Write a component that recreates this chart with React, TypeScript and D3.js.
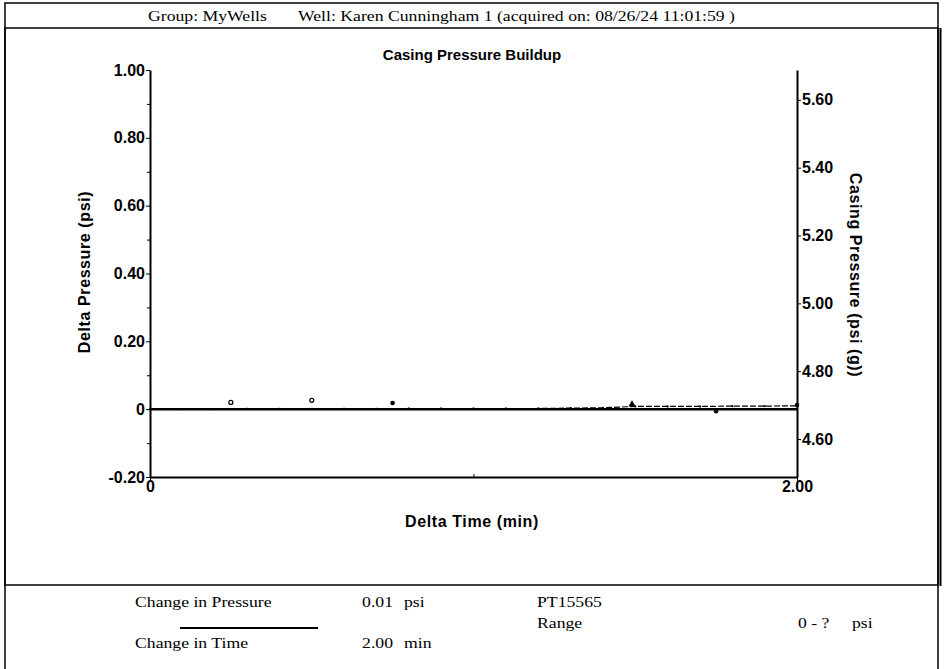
import React, { useRef, useEffect } from "react";
import * as d3 from "d3";

/* DATA */
const traceTime = [0, 0.1, 0.2, 0.3, 0.4, 0.5, 0.6, 0.7, 0.8, 0.9, 1.0, 1.1, 1.2, 1.3, 1.4, 1.5, 1.6, 1.7, 1.8, 1.9, 2.0];
const traceDelta = [0, 0, 0, 0.001, 0.001, 0.001, 0.001, 0.001, 0.002, 0.002, 0.002, 0.002, 0.002, 0.003, 0.004, 0.008, 0.008, 0.008, 0.009, 0.009, 0.01];

const openTime = [0.25, 0.5];
const openDelta = [0.02, 0.026];
const filledTime = [0.75, 1.75, 2.0];
const filledDelta = [0.018, -0.006, 0.012];
const triTime = [1.49];
const triDelta = [0.014];

const leftTicks = [-0.2, 0, 0.2, 0.4, 0.6, 0.8, 1.0];
const leftMinor = [-0.1, 0.1, 0.3, 0.5, 0.7, 0.9];
const rightTicks = [4.6, 4.8, 5.0, 5.2, 5.4, 5.6];
const xTicks = [0, 2];
const xMinor = [1];

const basePressure = 4.688;

const header1 = "Group: MyWells";
const header2 = "Well: Karen Cunningham 1 (acquired on: 08/26/24 11:01:59 )";

const W = 945;
const H = 669;
const left = 150;
const right = 797;
const top = 70;
const bottom = 477;

const sans = "'Liberation Sans', Arial, sans-serif";
const serif = "'Liberation Serif', 'Times New Roman', serif";

// printed report text is wider than the screen font
const stretch = 1.18;

const fmt = (d: any) => (d === 0 ? "0" : (+d).toFixed(2));

function BuildupChart() {
  const svgRef = useRef(null);

  useEffect(() => {
    const svg = d3.select(svgRef.current);
    svg.selectAll("*").remove();

    const x = d3.scaleLinear().domain([0, 2]).range([left, right]);
    const y = d3.scaleLinear().domain([-0.2, 1.0]).range([bottom, top]);
    const y2 = d3
      .scaleLinear()
      .domain([basePressure - 0.2, basePressure + 1.0])
      .range([bottom, top]);

    // frames
    svg.append("rect").attr("x", 5).attr("y", 3).attr("width", 933).attr("height", 680)
      .attr("fill", "none").attr("stroke", "#000").attr("stroke-width", 1.5);
    svg.append("rect").attr("x", 5).attr("y", 28).attr("width", 933).attr("height", 557)
      .attr("fill", "none").attr("stroke", "#000").attr("stroke-width", 1.5);
    svg.append("line").attr("x1", 940.5).attr("x2", 940.5).attr("y1", 28).attr("y2", 586)
      .attr("stroke", "#000").attr("stroke-width", 2);

    const serifText = (tx: number, ty: number, s: string, anchor = "start") =>
      svg.append("text").attr("transform", `translate(${tx},${ty}) scale(${stretch},1)`)
        .attr("text-anchor", anchor).attr("font-family", serif).attr("font-size", 15).text(s);

    // header
    serifText(148, 21, header1);
    serifText(298, 21, header2);

    // title
    svg.append("text").attr("x", 472).attr("y", 60).attr("text-anchor", "middle")
      .attr("font-family", sans).attr("font-weight", "bold").attr("font-size", 15)
      .text("Casing Pressure Buildup");

    // axes
    const axisFont = (g: any) => {
      g.selectAll("text").attr("font-family", sans).attr("font-weight", "bold")
        .attr("font-size", 16).attr("fill", "#000");
      g.select(".domain").attr("stroke-width", 2);
    };

    const yAxis = svg.append("g").attr("transform", `translate(${left},0)`)
      .call(d3.axisLeft(y).tickValues(leftTicks).tickSize(4).tickPadding(1)
        .tickSizeOuter(0).tickFormat(fmt));
    axisFont(yAxis);
    svg.append("g").attr("transform", `translate(${left},0)`)
      .call(d3.axisLeft(y).tickValues(leftMinor).tickSize(3).tickSizeOuter(0).tickFormat(() => ""))
      .call((g: any) => g.select(".domain").remove());

    const y2Axis = svg.append("g").attr("transform", `translate(${right},0)`)
      .call(d3.axisRight(y2).tickValues(rightTicks).tickSize(4).tickPadding(1)
        .tickSizeOuter(0).tickFormat(fmt));
    axisFont(y2Axis);

    const xAxis = svg.append("g").attr("transform", `translate(0,${bottom})`)
      .call(d3.axisBottom(x).tickValues(xTicks).tickSize(4).tickPadding(0)
        .tickSizeOuter(0).tickFormat(fmt));
    axisFont(xAxis);
    svg.append("g").attr("transform", `translate(0,${bottom})`)
      .call(d3.axisTop(x).tickValues(xMinor).tickSize(3).tickSizeOuter(0).tickFormat(() => ""))
      .call((g: any) => g.select(".domain").remove());

    // axis titles
    svg.append("text").attr("x", 472).attr("y", 527).attr("text-anchor", "middle")
      .attr("font-family", sans).attr("font-weight", "bold").attr("font-size", 16)
      .attr("letter-spacing", 0.6).text("Delta Time (min)");
    svg.append("text").attr("transform", "translate(90,272) rotate(-90)")
      .attr("text-anchor", "middle").attr("font-family", sans).attr("font-weight", "bold")
      .attr("font-size", 16).attr("letter-spacing", 0.6).text("Delta Pressure (psi)");
    svg.append("text").attr("transform", "translate(850,275) rotate(90)")
      .attr("text-anchor", "middle").attr("font-family", sans).attr("font-weight", "bold")
      .attr("font-size", 16).attr("letter-spacing", 0.6).text("Casing Pressure (psi (g))");

    // zero line
    svg.append("line").attr("x1", x(0)).attr("x2", x(2)).attr("y1", y(0)).attr("y2", y(0))
      .attr("stroke", "#000").attr("stroke-width", 2.5);

    // pressure trace
    const line = d3.line<number>().x((d, i) => x(traceTime[i])).y((d) => y(d));
    svg.append("path").datum(traceDelta).attr("d", line as any).attr("fill", "none")
      .attr("stroke", "#000").attr("stroke-width", 1.2).attr("stroke-dasharray", "6,2");
    svg.append("g").selectAll("rect").data(traceDelta).enter().append("rect")
      .attr("x", (d, i) => x(traceTime[i]) - 1).attr("y", (d) => y(d) - 1)
      .attr("width", 2).attr("height", 2).attr("fill", "#000");

    // markers
    svg.append("g").selectAll("circle").data(openDelta).enter().append("circle")
      .attr("cx", (d, i) => x(openTime[i])).attr("cy", (d) => y(d)).attr("r", 2)
      .attr("fill", "#fff").attr("stroke", "#000").attr("stroke-width", 1.2);
    svg.append("g").selectAll("circle").data(filledDelta).enter().append("circle")
      .attr("cx", (d, i) => x(filledTime[i])).attr("cy", (d) => y(d)).attr("r", 2.3)
      .attr("fill", "#000");
    svg.append("g").selectAll("path").data(triDelta).enter().append("path")
      .attr("d", d3.symbol().type(d3.symbolTriangle).size(22) as any)
      .attr("transform", (d, i) => `translate(${x(triTime[i])},${y(d)})`)
      .attr("fill", "#000");

    // footer
    serifText(135, 607, "Change in Pressure");
    serifText(393, 607, "0.01", "end");
    serifText(404, 607, "psi");
    serifText(537, 607, "PT15565");
    serifText(537, 628, "Range");
    serifText(798, 628, "0 - ?");
    serifText(852, 628, "psi");
    serifText(135, 648, "Change in Time");
    serifText(393, 648, "2.00", "end");
    serifText(404, 648, "min");
    svg.append("line").attr("x1", 180).attr("x2", 318).attr("y1", 628).attr("y2", 628)
      .attr("stroke", "#000").attr("stroke-width", 2);
  }, []);

  return <svg ref={svgRef} width={W} height={H} />;
}

export default function App() {
  return (
    <div style={{ position: "absolute", left: 0, top: 0, background: "#fff" }}>
      <BuildupChart />
    </div>
  );
}
